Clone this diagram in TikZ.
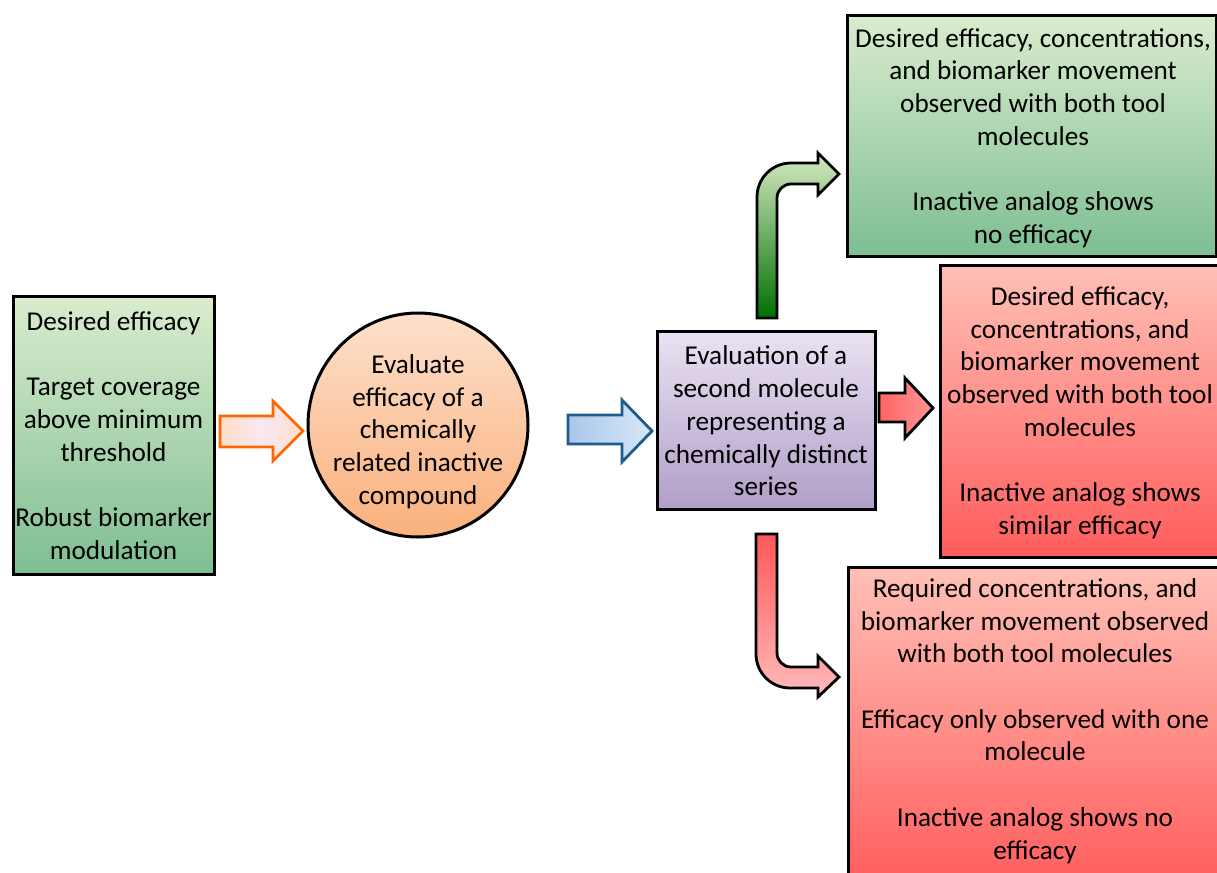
\documentclass[tikz,border=0pt]{standalone}
\usepackage{fontspec}
\setmainfont{Carlito}
\usetikzlibrary{shapes.geometric}
\definecolor{gTop}{RGB}{218,236,206}
\definecolor{gBot}{RGB}{126,190,146}
\definecolor{rTop}{RGB}{255,192,182}
\definecolor{rBot}{RGB}{255,92,92}
\definecolor{pTop}{RGB}{234,226,242}
\definecolor{pBot}{RGB}{176,158,200}
\definecolor{cTop}{RGB}{253,224,204}
\definecolor{cBot}{RGB}{250,176,124}
\definecolor{oLine}{RGB}{255,102,0}
\definecolor{oFillA}{RGB}{255,222,200}
\definecolor{oFillB}{RGB}{250,232,242}
\definecolor{bLine}{RGB}{30,92,140}
\definecolor{bFillA}{RGB}{168,198,234}
\definecolor{bFillB}{RGB}{218,232,248}
\definecolor{gaTop}{RGB}{214,234,196}
\definecolor{gaBot}{RGB}{0,112,0}
\definecolor{raTop}{RGB}{255,88,88}
\definecolor{raBot}{RGB}{255,186,186}
\definecolor{saA}{RGB}{255,100,100}
\definecolor{saB}{RGB}{252,150,150}
\tikzset{
  box/.style={draw=black, line width=3pt, rectangle, inner sep=0pt},
  greenbox/.style={box, top color=gTop, bottom color=gBot},
  redbox/.style={box, top color=rTop, bottom color=rBot},
  txt/.style={align=center, inner sep=0pt, font=\fontsize{27.2}{32.7}\selectfont},
  blockarrow/.style={line width=2.8pt, line join=miter},
}
\begin{document}
\begin{tikzpicture}[x=1pt,y=-1pt]
\useasboundingbox (0,0) rectangle (1217,872);
\clip (0,0) rectangle (1217,872);
% boxes
\node[greenbox, minimum width=201, minimum height=278] (left) at (113.5,435) {};
\node[draw=black, line width=3pt, ellipse, minimum width=220, minimum height=224, inner sep=0pt, top color=cTop, bottom color=cBot] (circ) at (418,425) {};
\node[box, top color=pTop, bottom color=pBot, minimum width=218, minimum height=178] (purple) at (766,420) {};
\node[greenbox, minimum width=369, minimum height=240] (topg) at (1031.5,136) {};
\node[redbox, minimum width=282, minimum height=292] (midr) at (1081,411) {};
\node[redbox, minimum width=374, minimum height=323] (botr) at (1035,728.5) {};
% texts
\node[txt] (lefttxt) at (113.5,435.5) {Desired efficacy\\[32.7pt]Target coverage\\above minimum\\threshold\\[32.7pt]Robust biomarker\\modulation};
\node[txt] (circtxt) at (418,431.5) {Evaluate\\efficacy of a\\chemically\\related inactive\\compound};
\node[txt] (purpletxt) at (766,421) {Evaluation of a\\second molecule\\representing a\\chemically distinct\\series};
\node[txt] (topgtxt) at (1033,138) {Desired efficacy, concentrations,\\and biomarker movement\\observed with both tool\\molecules\\[32.7pt]Inactive analog shows\\no efficacy};
\node[txt] (midrtxt) at (1080,412.5) {Desired efficacy,\\concentrations, and\\biomarker movement\\observed with both tool\\molecules\\[32.7pt]Inactive analog shows\\similar efficacy};
\node[txt] (botrtxt) at (1035,721) {Required concentrations, and\\biomarker movement observed\\with both tool molecules\\[32.7pt]Efficacy only observed with one\\molecule\\[32.7pt]Inactive analog shows no\\efficacy};
% straight block arrows
\draw[blockarrow, draw=oLine, left color=oFillA, right color=oFillA, middle color=oFillB]
  (220,416) -- (273,416) -- (273,401) -- (303,431) -- (273,461) -- (273,447) -- (220,447) -- cycle;
\draw[blockarrow, draw=bLine, left color=bFillA, right color=bFillB]
  (568,415) -- (622,415) -- (622,400) -- (652,431) -- (622,462) -- (622,444) -- (568,444) -- cycle;
\draw[blockarrow, draw=black, left color=saA, right color=saB]
  (879,393) -- (905,393) -- (905,378) -- (933,408) -- (905,438) -- (905,422) -- (879,422) -- cycle;
% bent arrows
\draw[blockarrow, draw=black, top color=gaTop, bottom color=gaBot]
  (757,318) -- (757,197) .. controls (757,178.2) and (772.2,163) .. (791,163)
  -- (818,163) -- (818,153) -- (839,174) -- (818,195) -- (818,184) -- (791,184)
  .. controls (783.3,184) and (777,190.3) .. (777,198) -- (777,318) -- cycle;
\draw[blockarrow, draw=black, top color=raTop, bottom color=raBot]
  (756,534) -- (756,654) .. controls (756,672.8) and (771.2,688) .. (790,688)
  -- (818,688) -- (818,697) -- (839,677) -- (818,656) -- (818,667) -- (791,667)
  .. controls (783.3,667) and (777,660.7) .. (777,653) -- (777,534) -- cycle;
\end{tikzpicture}
\end{document}
